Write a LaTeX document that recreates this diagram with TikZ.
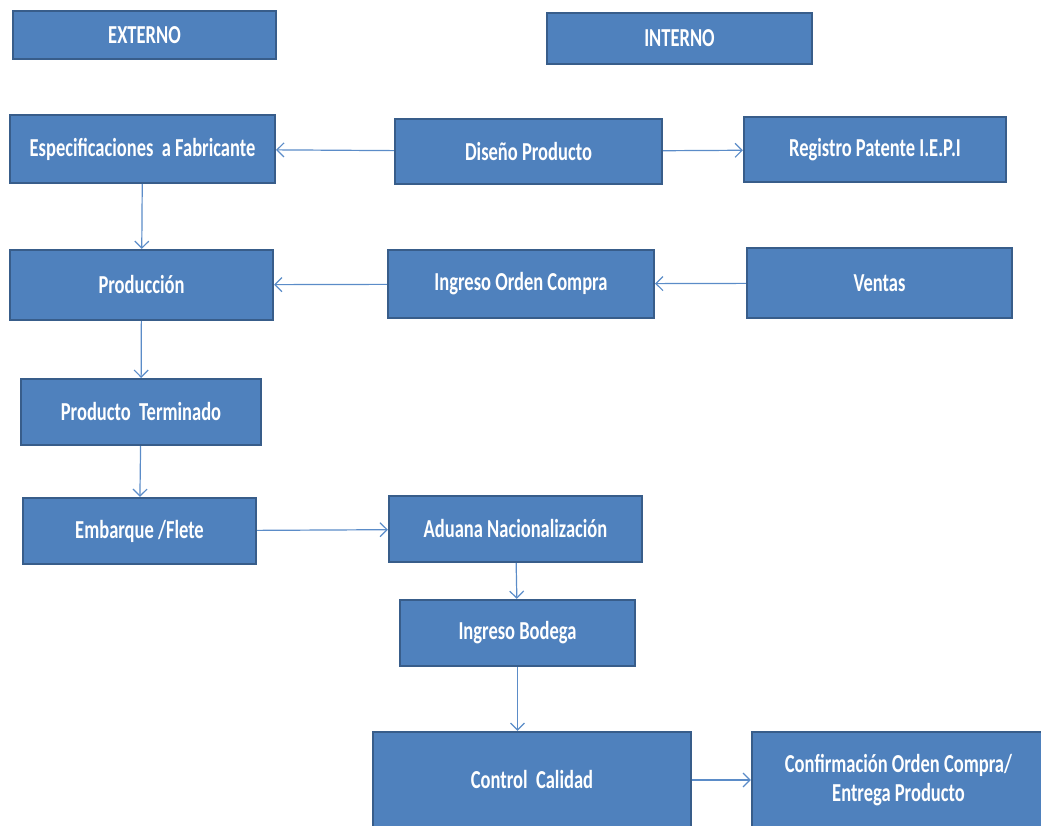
\documentclass[tikz,border=0pt]{standalone}
\usepackage{fontspec}
\setmainfont{Carlito}
\usepackage{tikz}
\usetikzlibrary{arrows.meta}

\definecolor{boxblue}{HTML}{4F81BD}
\definecolor{boxedge}{HTML}{385D8A}
\definecolor{arrowblue}{HTML}{5B8CC8}
\newcommand{\tall}[1]{\scalebox{1}[1.4]{#1}}

\tikzset{
  blk/.style={draw=boxedge, line width=2.2pt, fill=boxblue, text=white,
    font=\bfseries\fontsize{18.5}{22}\selectfont, inner sep=0pt, align=center},
  flow/.style={color=arrowblue, line width=1.2pt,
    -{Straight Barb[length=7pt,width=14pt]}}
}

\begin{document}
\begin{tikzpicture}[x=1pt, y=-1pt]
  \useasboundingbox (0,0) rectangle (1041,826);
  % headers
  \node[blk, minimum width=263pt, minimum height=48pt] (ext) at (144.5,35) {\tall{EXTERNO}};
  \node[blk, minimum width=265pt, minimum height=51pt] (int) at (679.5,38.5) {\tall{INTERNO}};
  % row 1
  \node[blk, minimum width=265pt, minimum height=68pt] (esp) at (142.5,149) {\tall{Especificaciones\ \ a Fabricante}};
  \node[blk, minimum width=267pt, minimum height=65pt] (dis) at (528.5,151.5) {\tall{Diseño Producto}};
  \node[blk, minimum width=262pt, minimum height=65pt] (reg) at (875,149.5) {\tall{Registro Patente I.E.P.I}};
  % row 2
  \node[blk, minimum width=263pt, minimum height=70pt] (prd) at (141.5,285) {\tall{Producción}};
  \node[blk, minimum width=266pt, minimum height=68pt] (ioc) at (521,284) {\tall{Ingreso Orden Compra}};
  \node[blk, minimum width=265pt, minimum height=70pt] (ven) at (879.5,283) {\tall{Ventas}};
  % left column
  \node[blk, minimum width=240pt, minimum height=66pt] (pte) at (141,412) {\tall{Producto\ \ Terminado}};
  \node[blk, minimum width=233pt, minimum height=66pt] (emb) at (139.5,531) {\tall{Embarque /Flete}};
  % lower part
  \node[blk, minimum width=253pt, minimum height=66pt] (adu) at (515.5,529) {\tall{Aduana Nacionalización}};
  \node[blk, minimum width=235pt, minimum height=66pt] (bod) at (517.5,633) {\tall{Ingreso Bodega}};
  \node[blk, minimum width=318pt, minimum height=96pt] (ctl) at (532,780) {\tall{Control\ \ Calidad}};
  \node[blk, minimum width=293pt, minimum height=96pt] (cnf) at (898.5,780)
    {\tall{Confirmación Orden Compra/}\\[6pt]\tall{Entrega Producto}};

  \path[flow]
  (dis) edge (esp)
        edge (reg)
  (esp) edge (prd)
  (ioc) edge (prd)
  (ven) edge (ioc)
  (prd) edge (pte)
  (pte) edge (emb)
  (emb) edge (adu)
  (adu) edge (bod)
  (bod.south) edge (bod.south |- ctl.north)
  (ctl) edge (cnf)
  ;
\end{tikzpicture}
\end{document}
